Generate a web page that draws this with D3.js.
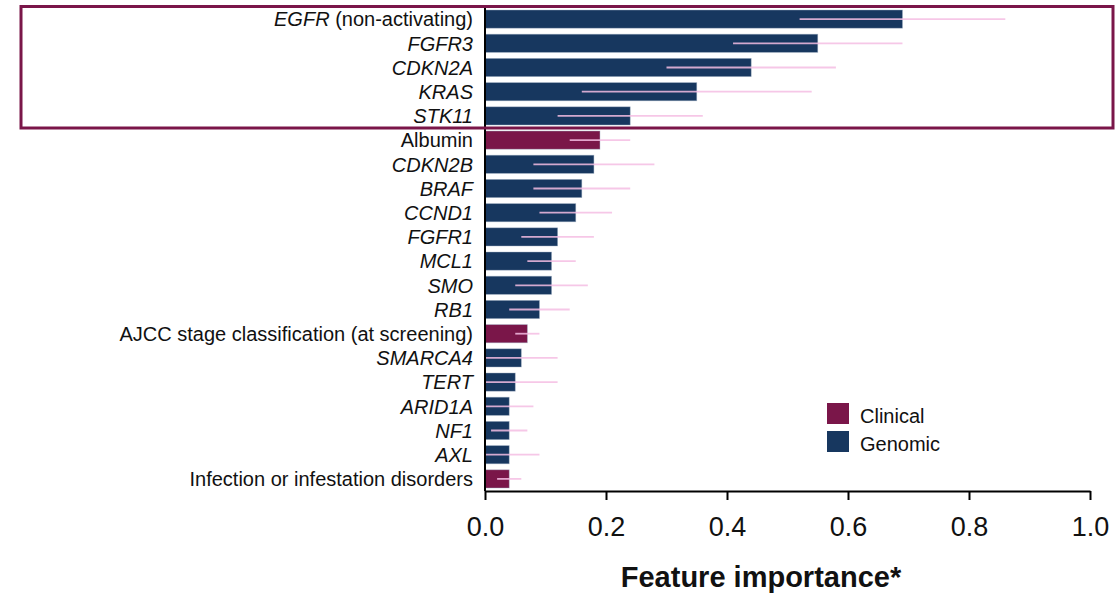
<!DOCTYPE html>
<html>
<head>
<meta charset="utf-8">
<script src="https://cdn.jsdelivr.net/npm/d3@7"></script>
<style>
  html, body { margin: 0; padding: 0; background: #fff; }
  svg { display: block; font-family: "Liberation Sans", Arial, sans-serif; }
</style>
</head>
<body>
<div id="chart"></div>
<script>
// feature names (gene symbol is italic, any suffix is plain)
const features = [
  "EGFR (non-activating)", "FGFR3", "CDKN2A", "KRAS", "STK11", "Albumin",
  "CDKN2B", "BRAF", "CCND1", "FGFR1", "MCL1", "SMO", "RB1",
  "AJCC stage classification (at screening)", "SMARCA4", "TERT", "ARID1A",
  "NF1", "AXL", "Infection or infestation disorders"
];
const featureType = [
  "Genomic", "Genomic", "Genomic", "Genomic", "Genomic", "Clinical",
  "Genomic", "Genomic", "Genomic", "Genomic", "Genomic", "Genomic", "Genomic",
  "Clinical", "Genomic", "Genomic", "Genomic", "Genomic", "Genomic", "Clinical"
];
const importance = [0.69, 0.55, 0.44, 0.35, 0.24, 0.19, 0.18, 0.16, 0.15, 0.12,
  0.11, 0.11, 0.09, 0.07, 0.06, 0.05, 0.04, 0.04, 0.04, 0.04];
const lower = [0.52, 0.41, 0.30, 0.16, 0.12, 0.14, 0.08, 0.08, 0.09, 0.06,
  0.07, 0.05, 0.04, 0.05, 0.00, 0.00, 0.00, 0.01, 0.00, 0.02];
const upper = [0.86, 0.69, 0.58, 0.54, 0.36, 0.24, 0.28, 0.24, 0.21, 0.18,
  0.15, 0.17, 0.14, 0.09, 0.12, 0.12, 0.08, 0.07, 0.09, 0.06];
const xTicks = [0, 0.2, 0.4, 0.6, 0.8, 1.0];
const legendItems = ["Clinical", "Genomic"];
const highlighted = 5; // top rows inside the box

const W = 1117, H = 593;
const colors = { Clinical: "#7a1649", Genomic: "#17375f" };

const rows = features.map((f, i) => ({
  name: f, type: featureType[i], value: importance[i], lo: lower[i], hi: upper[i]
}));

const svg = d3.select("#chart").append("svg")
  .attr("width", W).attr("height", H);

const x = d3.scaleLinear().domain([0, 1]).range([485, 1090]);
const y = d3.scaleBand().domain(features).range([7, 491])
  .paddingInner(0.25).paddingOuter(0.125);

// bars
svg.append("g").selectAll("rect")
  .data(rows)
  .join("rect")
  .attr("x", x(0))
  .attr("y", d => y(d.name))
  .attr("width", d => x(d.value) - x(0))
  .attr("height", y.bandwidth())
  .attr("fill", d => colors[d.type])
  .attr("stroke", "#9aaac0")
  .attr("stroke-opacity", 0.5)
  .attr("stroke-width", 0.8);

// error lines (no caps)
svg.append("g").selectAll("line")
  .data(rows)
  .join("line")
  .attr("x1", d => x(d.lo))
  .attr("x2", d => x(d.hi))
  .attr("y1", d => y(d.name) + y.bandwidth() / 2)
  .attr("y2", d => y(d.name) + y.bandwidth() / 2)
  .attr("stroke", "#f5bde3")
  .attr("stroke-opacity", 0.85)
  .attr("stroke-width", 1.8);

// category labels
const isGene = d => d.type === "Genomic";
const labels = svg.append("g").selectAll("text")
  .data(rows)
  .join("text")
  .attr("x", 473)
  .attr("y", d => y(d.name) + y.bandwidth() / 2)
  .attr("dy", "0.36em")
  .attr("text-anchor", "end")
  .attr("font-size", 20)
  .attr("fill", "#111");

labels.each(function(d) {
  const t = d3.select(this);
  if (!isGene(d)) { t.text(d.name); return; }
  const sp = d.name.indexOf(" ");
  const gene = sp < 0 ? d.name : d.name.slice(0, sp);
  t.append("tspan").attr("font-style", "italic").text(gene);
  if (sp >= 0) t.append("tspan").text(d.name.slice(sp));
});

// y axis line
svg.append("line")
  .attr("x1", x(0)).attr("x2", x(0))
  .attr("y1", 7).attr("y2", 491)
  .attr("stroke", "#000").attr("stroke-width", 2);

// x axis
const xAxis = svg.append("g")
  .attr("transform", "translate(0,491)")
  .call(d3.axisBottom(x)
    .tickValues(xTicks)
    .tickFormat(d3.format(".1f"))
    .tickSizeInner(9)
    .tickSizeOuter(0)
    .tickPadding(17));
xAxis.select(".domain").attr("stroke-width", 2);
xAxis.selectAll(".tick line").attr("stroke-width", 2);
xAxis.selectAll(".tick text")
  .attr("font-size", 27)
  .attr("font-family", "'Liberation Sans', Arial, sans-serif")
  .attr("fill", "#111");

svg.append("text")
  .attr("x", 761).attr("y", 587)
  .attr("text-anchor", "middle")
  .attr("font-size", 29)
  .attr("font-weight", "bold")
  .attr("fill", "#111")
  .text("Feature importance*");

// highlight box round the top features
const boxTop = 6.5;
const boxBottom = y(features[highlighted]) - y.step() * y.paddingInner() / 2;
svg.append("rect")
  .attr("x", 21).attr("y", boxTop)
  .attr("width", 1113 - 21).attr("height", boxBottom - boxTop)
  .attr("fill", "none")
  .attr("stroke", "#7a1649")
  .attr("stroke-width", 3);

// legend
const legend = svg.append("g").attr("transform", "translate(827,403)");
const li = legend.selectAll("g")
  .data(legendItems)
  .join("g")
  .attr("transform", (d, i) => `translate(0,${i * 28})`);
li.append("rect")
  .attr("width", 22).attr("height", 21)
  .attr("fill", d => colors[d]);
li.append("text")
  .attr("x", 33).attr("y", 20)
  .attr("font-size", 20)
  .attr("fill", "#111")
  .text(d => d);
</script>
</body>
</html>
